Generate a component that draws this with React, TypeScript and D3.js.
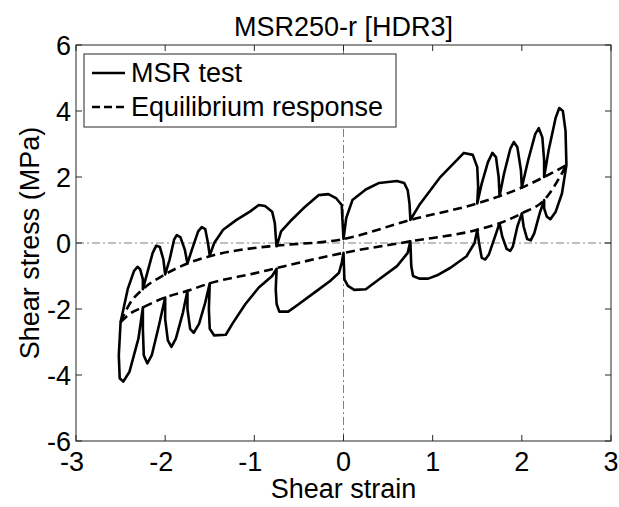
import React from "react";
import * as d3 from "d3";

// ---- data ----
const xTicks = [-3, -2, -1, 0, 1, 2, 3];
const yTicks = [-6, -4, -2, 0, 2, 4, 6];
const title = "MSR250-r [HDR3]";
const xLabel = "Shear strain";
const yLabel = "Shear stress (MPa)";
const legendLabels = ["MSR test", "Equilibrium response"];

// MSR test loop: loading branch (left -> right), then unloading branch (right -> left)
const msrStrain = [
  -2.5, -2.42, -2.35, -2.31, -2.28, -2.25, -2.25,
  -2.2, -2.14, -2.1, -2.06, -2.02, -2.0,
  -1.95, -1.9, -1.87, -1.83, -1.78, -1.75,
  -1.7, -1.63, -1.59, -1.55, -1.52, -1.5,
  -1.45, -1.35, -1.2, -1.05, -0.95, -0.88, -0.8, -0.77, -0.76, -0.75,
  -0.7, -0.6, -0.45, -0.28, -0.17, -0.08, -0.02, -0.01, 0.0,
  0.03, 0.1, 0.25, 0.4, 0.6, 0.68, 0.72, 0.74, 0.75,
  0.85, 1.08, 1.35, 1.45, 1.5, 1.51, 1.5,
  1.55, 1.62, 1.67, 1.71, 1.74, 1.75,
  1.8, 1.87, 1.91, 1.95, 1.99, 2.0,
  2.07, 2.15, 2.19, 2.23, 2.25, 2.25,
  2.3, 2.38, 2.42, 2.46, 2.49, 2.5,
  // unloading
  2.45, 2.38, 2.32, 2.28, 2.25, 2.25,
  2.2, 2.14, 2.1, 2.06, 2.02, 2.0,
  1.95, 1.9, 1.87, 1.83, 1.78, 1.75,
  1.7, 1.63, 1.59, 1.55, 1.52, 1.5,
  1.47, 1.38, 1.2, 1.05, 0.95, 0.85, 0.78, 0.76, 0.75,
  0.72, 0.6, 0.4, 0.25, 0.12, 0.05, 0.01, 0.0,
  -0.02, -0.05, -0.15, -0.3, -0.5, -0.62, -0.72, -0.75, -0.76, -0.75,
  -0.8, -0.95, -1.1, -1.24, -1.32, -1.45, -1.5, -1.51, -1.5,
  -1.55, -1.62, -1.68, -1.72, -1.75, -1.75,
  -1.8, -1.88, -1.93, -1.97, -2.0, -2.0,
  -2.07, -2.15, -2.2, -2.24, -2.25, -2.25,
  -2.3, -2.4, -2.47, -2.51, -2.52, -2.5,
];
const msrStress = [
  -2.4, -1.4, -0.85, -0.72, -0.8, -1.1, -1.4,
  -0.9, -0.3, -0.08, -0.12, -0.5, -0.95,
  -0.5, 0.1, 0.24, 0.18, -0.2, -0.62,
  -0.2, 0.35, 0.48, 0.42, 0.0, -0.38,
  0.0, 0.4, 0.7, 0.95, 1.15, 1.12, 0.95, 0.6, 0.2, -0.1,
  0.35, 0.65, 1.05, 1.45, 1.48, 1.35, 1.15, 0.6, 0.12,
  0.75, 1.3, 1.62, 1.82, 1.88, 1.82, 1.6, 1.2, 0.7,
  1.15, 1.98, 2.73, 2.67, 2.3, 1.7, 1.2,
  1.8, 2.45, 2.73, 2.6, 2.0, 1.42,
  2.1, 2.85, 3.06, 2.9, 2.2, 1.68,
  2.5, 3.3, 3.48, 3.2, 2.5, 2.0,
  2.8, 3.8, 4.09, 4.0, 3.4, 2.36,
  // unloading
  1.5, 0.95, 0.72, 0.8, 1.05, 1.3,
  0.9, 0.3, 0.08, 0.12, 0.5, 0.9,
  0.5, -0.1, -0.24, -0.18, 0.2, 0.6,
  0.2, -0.35, -0.5, -0.45, 0.0, 0.4,
  0.0, -0.4, -0.75, -0.98, -1.08, -1.08, -1.0, -0.7, 0.05,
  -0.3, -0.7, -1.1, -1.4, -1.42, -1.3, -1.1, -0.3,
  -0.6, -0.9, -1.15, -1.45, -1.85, -2.08, -2.08, -1.85, -1.4, -0.78,
  -1.0, -1.35, -1.85, -2.42, -2.78, -2.8, -2.6, -2.0, -1.22,
  -1.8, -2.45, -2.72, -2.6, -2.0, -1.45,
  -2.1, -2.9, -3.15, -2.95, -2.3, -1.65,
  -2.5, -3.4, -3.65, -3.4, -2.6, -1.95,
  -2.9, -3.9, -4.2, -4.1, -3.4, -2.4,
];

// Equilibrium response: upper (loading) and lower (unloading) curves
const eqStrain = [-2.5, -2.4, -2.25, -2.0, -1.75, -1.5, -1.0, -0.75, 0, 0.75, 1.5, 1.75, 2.0, 2.25, 2.5];
const eqUpperStress = [-2.4, -1.85, -1.4, -0.95, -0.62, -0.4, -0.15, -0.08, 0.12, 0.7, 1.2, 1.42, 1.68, 2.0, 2.36];
const eqLowerStress = [-2.4, -2.15, -1.95, -1.65, -1.45, -1.22, -0.92, -0.76, -0.3, 0.05, 0.4, 0.6, 0.9, 1.3, 2.36];

const W = 619;
const H = 507;

export default function App() {
  const x = d3.scaleLinear().domain([-3, 3]).range([76, 611]);
  const y = d3.scaleLinear().domain([-6, 6]).range([441, 45]);
  const line = d3
    .line<[number, number]>()
    .x((d) => x(d[0]))
    .y((d) => y(d[1]));

  const msrPts: [number, number][] = msrStrain.map((s, i) => [s, msrStress[i]]);
  const upPts: [number, number][] = eqStrain.map((s, i) => [s, eqUpperStress[i]]);
  const loPts: [number, number][] = eqStrain.map((s, i) => [s, eqLowerStress[i]]);
  const smooth = d3
    .line<[number, number]>()
    .x((d) => x(d[0]))
    .y((d) => y(d[1]))
    .curve(d3.curveMonotoneX);

  const [x0, x1] = x.range();
  const [y0, y1] = y.range(); // y0 bottom, y1 top
  const font = "Arial, 'Liberation Sans', sans-serif";
  const fs = 27;
  const axisColor = "#262626";
  const tickLen = 6;

  return (
    <svg
      width={W}
      height={H}
      style={{ position: "absolute", left: 0, top: 0, background: "#fff" }}
      fontFamily={font}
    >
      <rect x={0} y={0} width={W} height={H} fill="#fff" />
      {/* zero lines */}
      <line x1={x0} x2={x1} y1={y(0)} y2={y(0)} stroke="#7f7f7f" strokeWidth={1} strokeDasharray="8,3,2,3" />
      <line x1={x(0)} x2={x(0)} y1={y0} y2={y1} stroke="#7f7f7f" strokeWidth={1} strokeDasharray="8,3,2,3" />

      {/* data */}
      <path d={smooth(upPts) ?? ""} fill="none" stroke="#000" strokeWidth={2.6} strokeDasharray="9,5" />
      <path d={smooth(loPts) ?? ""} fill="none" stroke="#000" strokeWidth={2.6} strokeDasharray="9,5" />
      <path d={line(msrPts) ?? ""} fill="none" stroke="#000" strokeWidth={2.6} strokeLinejoin="round" strokeLinecap="round" />

      {/* axes box */}
      <rect x={x0} y={y1} width={x1 - x0} height={y0 - y1} fill="none" stroke={axisColor} strokeWidth={1} />
      {xTicks.map((t) => (
        <g key={"xt" + t}>
          <line x1={x(t)} x2={x(t)} y1={y0} y2={y0 - tickLen} stroke={axisColor} />
          <line x1={x(t)} x2={x(t)} y1={y1} y2={y1 + tickLen} stroke={axisColor} />
          <text x={x(t) - (t < 0 ? 4 : 0)} y={471} textAnchor="middle" fontSize={fs} fill="#000">
            {t}
          </text>
        </g>
      ))}
      {yTicks.map((t) => (
        <g key={"yt" + t}>
          <line x1={x0} x2={x0 + tickLen} y1={y(t)} y2={y(t)} stroke={axisColor} />
          <line x1={x1} x2={x1 - tickLen} y1={y(t)} y2={y(t)} stroke={axisColor} />
          <text x={71} y={y(t)} dy="0.36em" textAnchor="end" fontSize={fs} fill="#000">
            {t}
          </text>
        </g>
      ))}

      {/* title and labels */}
      <text x={(x0 + x1) / 2} y={36} textAnchor="middle" fontSize={fs}>
        {title}
      </text>
      <text x={(x0 + x1) / 2} y={498} textAnchor="middle" fontSize={fs}>
        {xLabel}
      </text>
      <text transform={`translate(39, ${(y0 + y1) / 2}) rotate(-90)`} textAnchor="middle" fontSize={fs}>
        {yLabel}
      </text>

      {/* legend */}
      <rect x={84} y={54} width={312} height={73} fill="#fff" stroke={axisColor} strokeWidth={1} />
      <line x1={92} x2={125} y1={73} y2={73} stroke="#000" strokeWidth={2.6} />
      <text x={131} y={82} fontSize={fs}>
        {legendLabels[0]}
      </text>
      <line x1={92} x2={125} y1={107} y2={107} stroke="#000" strokeWidth={2.6} strokeDasharray="8,4" />
      <text x={131} y={116} fontSize={fs}>
        {legendLabels[1]}
      </text>
    </svg>
  );
}
